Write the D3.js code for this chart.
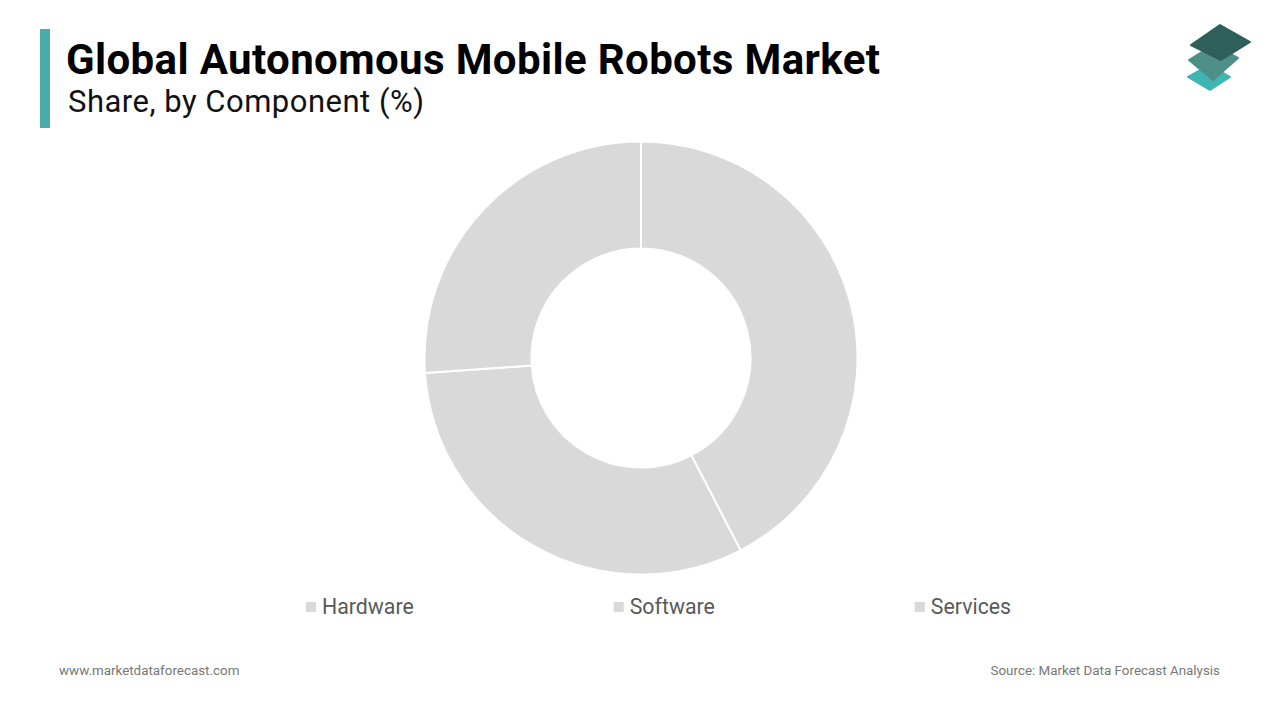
<!DOCTYPE html>
<html>
<head>
<meta charset="utf-8">
<script src="https://cdn.jsdelivr.net/npm/d3@7"></script>
<style>
  html, body { margin: 0; padding: 0; background: #fff; }
  svg { display: block; font-family: Roboto, "Noto Sans", sans-serif; }
</style>
</head>
<body>
<svg id="viz" width="1280" height="720"></svg>
<script>
// values (%)
const components = ["Hardware", "Software", "Services"];
const shares = [42.4, 31.5, 26.1];
const sliceColors = ["#d9d9d9", "#d9d9d9", "#d9d9d9"];

const svg = d3.select("#viz");

// header
svg.append("rect").attr("x", 40).attr("y", 29).attr("width", 10).attr("height", 99)
    .style("fill", "#4aabab");
svg.append("text").attr("x", 66).attr("y", 74)
    .attr("textLength", 814).attr("lengthAdjust", "spacing")
    .text("Global Autonomous Mobile Robots Market")
    .style("font-size", "42px").style("font-weight", "bold").style("fill", "#000");
svg.append("text").attr("x", 68).attr("y", 112)
    .attr("textLength", 356).attr("lengthAdjust", "spacing")
    .text("Share, by Component (%)")
    .style("font-size", "31px").style("fill", "#111");

// logo (three stacked tiles)
const logo = svg.append("g");
logo.append("path").attr("d", "M1188,77 L1210,65 L1230,77 L1210,90 Z")
    .style("fill", "#3fb6b1").attr("stroke", "#3fb6b1").attr("stroke-width", 2).attr("stroke-linejoin", "round");
logo.append("path").attr("d", "M1189,60 L1213,45 L1238,58 L1213,80 Z")
    .style("fill", "#4f8f8a").attr("stroke", "#4f8f8a").attr("stroke-width", 2).attr("stroke-linejoin", "round");
logo.append("path").attr("d", "M1191,45 L1220,25 L1250,42 L1221,60 Z")
    .style("fill", "#2f5f5a").attr("stroke", "#2f5f5a").attr("stroke-width", 2).attr("stroke-linejoin", "round");

// donut
const cx = 641, cy = 358;
const pie = d3.pie().sort(null).value(d => d);
const arc = d3.arc().innerRadius(109.5).outerRadius(216.5);

const g = svg.append("g").attr("transform", `translate(${cx},${cy})`);
g.selectAll(".slice")
    .data(pie(shares))
    .enter()
    .append("path")
    .attr("class", "slice")
    .attr("d", arc)
    .style("fill", (d, i) => sliceColors[i])
    .style("stroke", "#fff")
    .style("stroke-width", 2);

// legend: items laid out one after another with a fixed gap
const legend = svg.selectAll(".legend")
    .data(components)
    .enter()
    .append("g")
    .attr("class", "legend");
legend.append("rect").attr("x", 0).attr("y", 602).attr("width", 10).attr("height", 10)
    .style("fill", (d, i) => sliceColors[i]);
legend.append("text").attr("x", 16).attr("y", 614)
    .text(d => d)
    .style("font-size", "21.3px").style("fill", "#595959");

let lx = 306;
legend.each(function() {
    d3.select(this).attr("transform", `translate(${lx},0)`);
    lx += this.getBBox().width + 200;
});

// footer
svg.append("text").attr("x", 59).attr("y", 675)
    .text("www.marketdataforecast.com")
    .style("font-size", "13.4px").style("fill", "#777");
svg.append("text").attr("x", 1220).attr("y", 675).attr("text-anchor", "end")
    .text("Source: Market Data Forecast Analysis")
    .style("font-size", "13.4px").style("fill", "#777");
</script>
</body>
</html>
